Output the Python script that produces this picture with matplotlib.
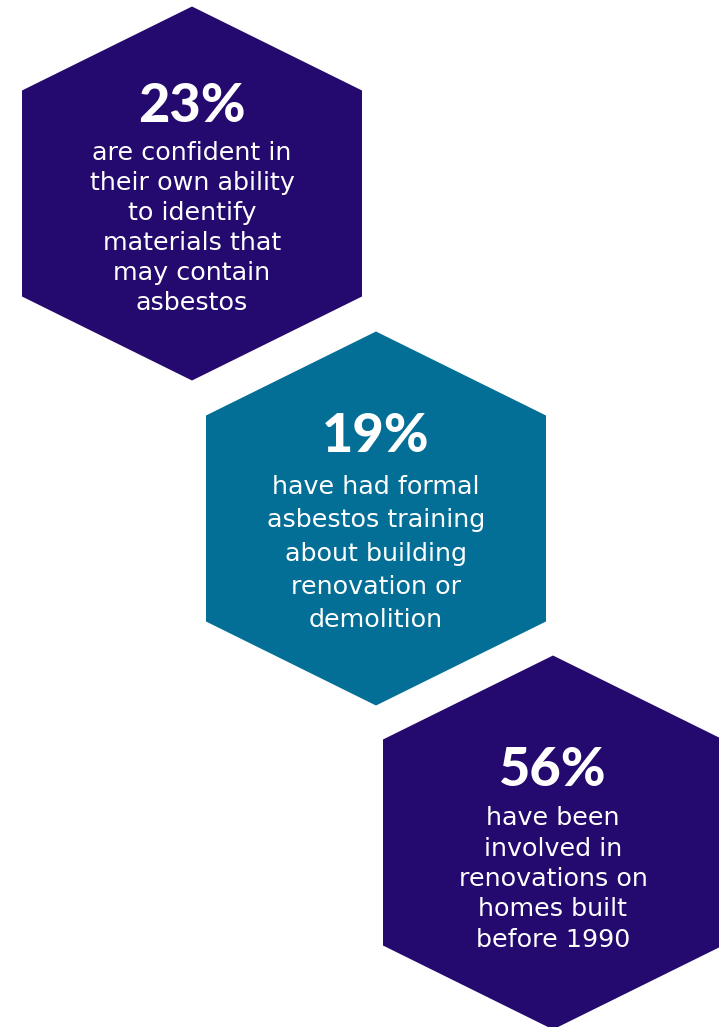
import matplotlib.pyplot as plt
from matplotlib.patches import Polygon

# content
percents = ["23%", "19%", "56%"]
descriptions = [
    ["are confident in", "their own ability", "to identify", "materials that",
     "may contain", "asbestos"],
    ["have had formal", "asbestos training", "about building",
     "renovation or", "demolition"],
    ["have been", "involved in", "renovations on", "homes built",
     "before 1990"],
]
colors = ["#24096E", "#036F96", "#24096E"]

# layout in pixel coords (y down)
centers = [(192, 193.5), (376, 518.5), (553, 842.5)]
pct_y = [106, 437, 770]
first_line_y = [153, 487, 818]
line_gap = [30, 33.3, 30.5]

W, H = 719, 1027
fig = plt.figure(figsize=(W / 100, H / 100), dpi=100)
ax = fig.add_axes([0, 0, 1, 1])
ax.set_xlim(0, W)
ax.set_ylim(H, 0)
ax.axis("off")

hw, hh, sh = 170, 187, 103

for i in range(3):
    cx, cy = centers[i]
    pts = [(cx, cy - hh), (cx + hw, cy - sh), (cx + hw, cy + sh),
           (cx, cy + hh), (cx - hw, cy + sh), (cx - hw, cy - sh)]
    ax.add_patch(Polygon(pts, closed=True, facecolor=colors[i], edgecolor="none"))
    ax.text(cx, pct_y[i], percents[i], color="white", fontsize=39,
            fontweight="black", family="Lato", ha="center", va="center")
    for j, line in enumerate(descriptions[i]):
        ax.text(cx, first_line_y[i] + j * line_gap[i], line, color="white",
                fontsize=18.3, family="DejaVu Sans", ha="center", va="center")

fig.savefig("out.png", dpi=100)
